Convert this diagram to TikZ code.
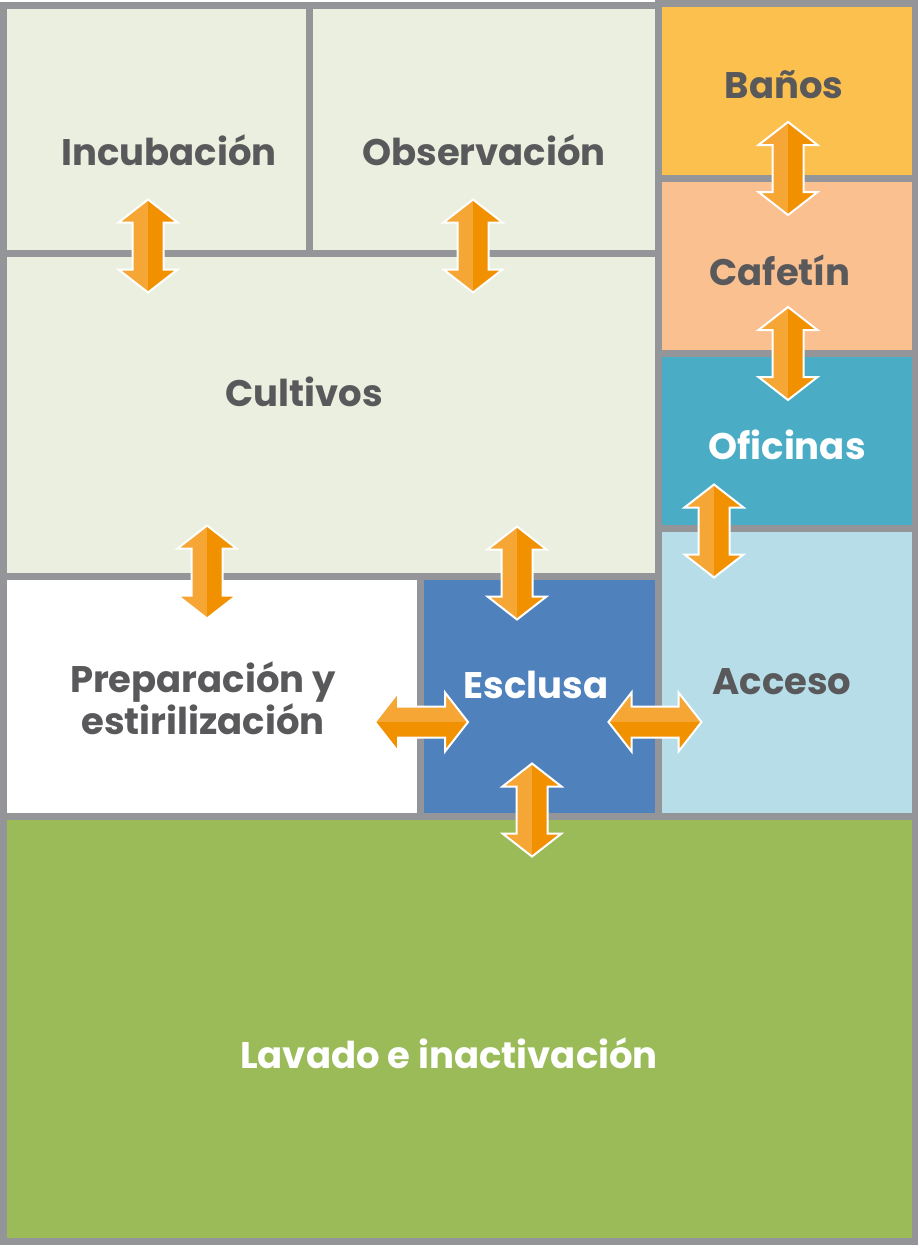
\documentclass[tikz,border=0pt]{standalone}
\usepackage{fontspec}
\setmainfont{Poppins}
\definecolor{grayline}{RGB}{147,149,152}
\definecolor{txtgray}{RGB}{89,89,91}
\definecolor{paleg}{RGB}{235,239,223}
\definecolor{bluebox}{RGB}{79,129,189}
\definecolor{greenbox}{RGB}{155,187,89}
\definecolor{yellowbox}{RGB}{252,192,79}
\definecolor{peachbox}{RGB}{250,192,144}
\definecolor{tealbox}{RGB}{75,172,198}
\definecolor{lightblue}{RGB}{183,221,232}
\definecolor{lightor}{RGB}{245,166,52}
\definecolor{darkor}{RGB}{242,145,0}
\begin{document}
\begin{tikzpicture}[x=1pt,y=-1pt,
  room/.style={draw=grayline,line width=7pt},
  lbl/.style={font=\fontsize{37}{37}\selectfont\bfseries, text=txtgray, align=center, inner sep=0pt},
  wlbl/.style={lbl, text=white},
  varrow/.pic={
    \fill[lightor] (0,-46.5) -- (-29.5,-23.5) -- (-15.5,-23.5) -- (-15.5,23.5) -- (-29.5,23.5) -- (0,46.5) -- cycle;
    \fill[darkor] (0,-46.5) -- (29.5,-23.5) -- (15.5,-23.5) -- (15.5,23.5) -- (29.5,23.5) -- (0,46.5) -- cycle;
    \draw[white,line width=2pt,line join=miter] (0,-46.5) -- (29.5,-23.5) -- (15.5,-23.5) -- (15.5,23.5) -- (29.5,23.5) -- (0,46.5) -- (-29.5,23.5) -- (-15.5,23.5) -- (-15.5,-23.5) -- (-29.5,-23.5) -- cycle;
  },
  harrow/.pic={
    \fill[lightor] (-46.5,0) -- (-23.5,-29.5) -- (-23.5,-15.5) -- (23.5,-15.5) -- (23.5,-29.5) -- (46.5,0) -- cycle;
    \fill[darkor] (-46.5,0) -- (-23.5,29.5) -- (-23.5,15.5) -- (23.5,15.5) -- (23.5,29.5) -- (46.5,0) -- cycle;
    \draw[white,line width=2pt,line join=miter] (-46.5,0) -- (-23.5,-29.5) -- (-23.5,-15.5) -- (23.5,-15.5) -- (23.5,-29.5) -- (46.5,0) -- (23.5,29.5) -- (23.5,15.5) -- (-23.5,15.5) -- (-23.5,29.5) -- cycle;
  }]
\useasboundingbox (0,0) rectangle (918,1245);
\fill[white] (0,0) rectangle (918,1245);
% rooms
\draw[room, fill=paleg] (3,5) rectangle (309,253);
\draw[room, fill=paleg] (309,5) rectangle (658,253);
\draw[room, fill=paleg] (3,253) rectangle (658,576);
\draw[room, fill=white] (3,576) rectangle (420,816);
\draw[room, fill=bluebox] (420,576) rectangle (658,816);
\draw[room, fill=greenbox] (3,816) rectangle (915,1241);
\draw[room, fill=yellowbox] (658,3) rectangle (915,178);
\draw[room, fill=peachbox] (658,178) rectangle (915,353);
\draw[room, fill=tealbox] (658,353) rectangle (915,528);
\draw[room, fill=lightblue] (658,528) rectangle (915,816);
% labels
\node[lbl] (incub) at (169,150) {Incubación};
\node[lbl] (obs) at (484,150) {Observación};
\node[lbl] (cult) at (304,392) {Cultivos};
\node[lbl] (banos) at (784,85) {Baños};
\node[lbl] (cafe) at (780,270) {Cafetín};
\node[wlbl] (ofi) at (787,445) {Oficinas};
\node[lbl] (prep) at (203,698) {Preparación y\\estirilización};
\node[wlbl] (escl) at (536,685) {Esclusa};
\node[lbl] (acc) at (782,682) {Acceso};
\node[wlbl] (lav) at (449,1053) {Lavado e inactivación};
% arrows
\pic at (148,246) {varrow};
\pic at (473,246) {varrow};
\pic at (788,168.5) {varrow};
\pic at (788,353.5) {varrow};
\pic at (714,531) {varrow};
\pic at (207,572) {varrow};
\pic at (517,573) {varrow};
\pic at (421.5,722) {harrow};
\pic at (655,722) {harrow};
\pic at (532,810) {varrow};
\end{tikzpicture}
\end{document}
